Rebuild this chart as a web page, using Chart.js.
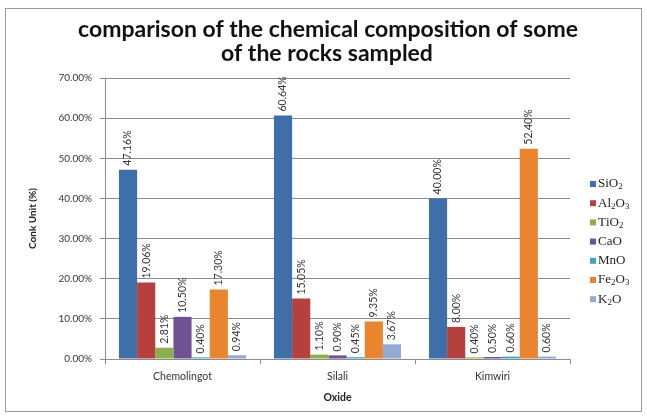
<!DOCTYPE html>
<html>
<head>
<meta charset="utf-8">
<script src="https://cdn.jsdelivr.net/npm/chart.js@4.4.0/dist/chart.umd.min.js"></script>
<style>
    html, body { margin: 0; padding: 0; background: #fff; }
    #wrap { width: 647px; height: 416px; }
</style>
</head>
<body>
<div id="wrap"><canvas id="rockChart" width="647" height="416"></canvas></div>
<script>
// data (percent)
const sites = ['Chemolingot', 'Silali', 'Kimwiri'];
const oxides = ['SiO2', 'Al2O3', 'TiO2', 'CaO', 'MnO', 'Fe2O3', 'K2O'];
const SiO2 = [47.16, 60.64, 40.00];
const Al2O3 = [19.06, 15.05, 8.00];
const TiO2 = [2.81, 1.10, 0.40];
const CaO = [10.50, 0.90, 0.50];
const MnO = [0.40, 0.45, 0.60];
const Fe2O3 = [17.30, 9.35, 52.40];
const K2O = [0.94, 3.67, 0.60];
const yTicks = [0, 10, 20, 30, 40, 50, 60, 70];

const seriesValues = [SiO2, Al2O3, TiO2, CaO, MnO, Fe2O3, K2O];
const colors = ['#3F6FAA', '#B5403D', '#8BAF4C', '#6F5194', '#3FA4C0', '#E9852F', '#93AAD5'];

const titleLines = ['comparison of the chemical composition of some', 'of the rocks sampled'];

// outer frame + title
const framePlugin = {
    id: 'frame',
    beforeDraw(chart) {
        const ctx = chart.ctx;
        ctx.save();
        ctx.strokeStyle = '#9a9a9a';
        ctx.lineWidth = 1;
        ctx.strokeRect(5.5, 8.5, 636, 403);
        ctx.fillStyle = '#111';
        ctx.font = 'bold 23px Lato';
        ctx.textAlign = 'center';
        ctx.textBaseline = 'middle';
        ctx.fillText(titleLines[0], 328, 30);
        ctx.fillText(titleLines[1], 327, 54);
        ctx.restore();
    }
};

// rotated value labels above bars
const valueLabels = {
    id: 'valueLabels',
    afterDatasetsDraw(chart) {
        const ctx = chart.ctx;
        ctx.save();
        ctx.fillStyle = '#333';
        ctx.font = '10.5px Lato';
        ctx.textAlign = 'left';
        ctx.textBaseline = 'middle';
        chart.data.datasets.forEach((ds, i) => {
            chart.getDatasetMeta(i).data.forEach((bar, j) => {
                ctx.save();
                ctx.translate(bar.x, bar.y - 4);
                ctx.rotate(-Math.PI / 2);
                ctx.fillText(ds.data[j].toFixed(2) + '%', 0, 0);
                ctx.restore();
            });
        });
        ctx.restore();
    }
};

// legend with subscripts, drawn by hand
function drawChem(ctx, text, x, y) {
    for (const ch of text) {
        if (/[0-9]/.test(ch)) {
            ctx.font = '9px "Liberation Serif"';
            ctx.fillText(ch, x, y + 3);
        } else {
            ctx.font = '13px "Liberation Serif"';
            ctx.fillText(ch, x, y);
        }
        x += ctx.measureText(ch).width;
    }
}
const sideLegend = {
    id: 'sideLegend',
    afterDraw(chart) {
        const ctx = chart.ctx;
        ctx.save();
        ctx.textBaseline = 'middle';
        ctx.textAlign = 'left';
        oxides.forEach((name, i) => {
            const y = 184 + i * 19.2;
            ctx.fillStyle = colors[i];
            ctx.fillRect(590, y - 3, 6, 6);
            ctx.fillStyle = '#222';
            drawChem(ctx, name, 598, y);
        });
        ctx.restore();
    }
};

new Chart(document.getElementById('rockChart'), {
    type: 'bar',
    data: {
        labels: sites,
        datasets: oxides.map((name, i) => ({
            label: name,
            data: seriesValues[i],
            backgroundColor: colors[i],
            borderWidth: 0,
            categoryPercentage: 0.82,
            barPercentage: 1.0
        }))
    },
    options: {
        responsive: false,
        animation: false,
        layout: { padding: { left: 5, right: 77, top: 78, bottom: 0 } },
        plugins: {
            legend: { display: false },
            title: { display: false },
            tooltip: { enabled: false }
        },
        scales: {
            x: {
                grid: { drawOnChartArea: false, tickLength: 5, color: '#8c8c8c' },
                border: { color: '#8c8c8c' },
                ticks: { color: '#333', font: { family: 'Lato', size: 10.5 }, padding: 6 },
                title: {
                    display: true, text: 'Oxide', color: '#222',
                    font: { family: 'Lato', size: 10.5, weight: 'bold' },
                    padding: { top: 0, bottom: 12 }
                },
                afterFit(scale) { scale.height = 57; }
            },
            y: {
                min: 0,
                max: 70,
                afterBuildTicks(scale) { scale.ticks = yTicks.map(v => ({ value: v })); },
                grid: { color: '#8c8c8c', tickLength: 5 },
                border: { color: '#8c8c8c' },
                ticks: {
                    color: '#333', font: { family: 'Lato', size: 10 }, padding: 8,
                    callback: v => v.toFixed(2) + '%'
                },
                title: {
                    display: true, text: 'Conk Unit (%)', color: '#222',
                    font: { family: 'Lato', size: 10, weight: 'bold' },
                    padding: { top: 22, bottom: 0 }
                },
                afterFit(scale) { scale.width = 100; }
            }
        }
    },
    plugins: [framePlugin, valueLabels, sideLegend]
});
</script>
</body>
</html>
